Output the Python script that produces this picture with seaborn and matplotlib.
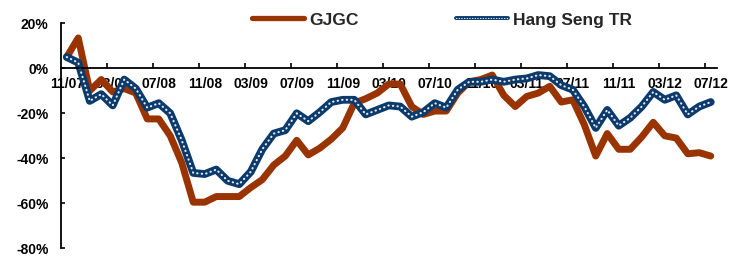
import pandas as pd
import numpy as np
import seaborn as sns
import matplotlib.pyplot as plt
from matplotlib.lines import Line2D
from matplotlib.ticker import FixedLocator, FuncFormatter

# ==============================
# DATA (monthly, 11/07 .. 07/12)
# ==============================

months = pd.date_range("2007-11-01", "2012-07-01", freq="MS").strftime("%m/%y").tolist()
tick_labels = ["11/07", "03/08", "07/08", "11/08", "03/09", "07/09", "11/09", "03/10",
               "07/10", "11/10", "03/11", "07/11", "11/11", "03/12", "07/12"]

gjgc = [5, 13.5, -10, -5, -10.5, -9, -11, -22.5, -22.5, -30,
        -42, -59.5, -59.5, -57, -57, -57, -53, -49.5, -43, -39,
        -32, -38.5, -35.5, -31.5, -26.5, -15.5, -13.5, -11, -7, -7,
        -17, -20.5, -19, -19, -11, -6, -5, -3, -12, -17,
        -12.5, -11, -8, -15, -14, -25, -39, -29, -36, -36,
        -30.5, -24, -30, -31, -38, -37.5, -39]

hang_seng_tr = [5, 2.5, -14.5, -11.5, -16.5, -5, -9, -17.5, -15.5, -20,
                -32, -46.5, -47, -45, -50, -51.5, -46, -36, -29, -27.5,
                -20, -23.5, -19.5, -15, -14, -14, -20.5, -18.5, -16.5, -17,
                -21.5, -19.5, -15.5, -17.5, -9.5, -6, -6, -5, -6, -5,
                -4.5, -3, -3.5, -7.5, -9.5, -17, -26.5, -18.5, -25.5, -22,
                -17, -10.5, -14, -12, -20.5, -17, -15]

df = pd.DataFrame({"Month": months, "GJGC": gjgc, "HangSengTR": hang_seng_tr})
df["idx"] = np.arange(len(df))

# ==============================
# THEME
# ==============================

sns.set_theme(style="white")
plt.rcParams['font.family'] = ['Liberation Sans', 'DejaVu Sans']
plt.rcParams['font.weight'] = 'bold'

ORANGE = "#993300"
NAVY = "#0b3a6b"
DOT = "#e4ebf5"

fig = plt.figure(figsize=(7.44, 2.57), dpi=100)
ax = fig.add_axes([61 / 744, 1 - 248.3 / 257, (716.5 - 61) / 744, 225 / 257])

# ==============================
# LINES
# ==============================

sns.lineplot(data=df, x="idx", y="GJGC", color=ORANGE, lw=5.0, ax=ax,
             solid_joinstyle="round", solid_capstyle="round")
sns.lineplot(data=df, x="idx", y="HangSengTR", color=NAVY, lw=5.6, ax=ax,
             solid_joinstyle="round", solid_capstyle="round")
sns.lineplot(data=df, x="idx", y="HangSengTR", color=DOT, lw=1.5, ax=ax,
             linestyle=(0, (0.2, 2.0)), dash_capstyle="round")

# ==============================
# AXES
# ==============================

ax.set_xlim(-0.5, len(df) - 0.5)
ax.set_ylim(-80, 20)
ax.set_xlabel("")
ax.set_ylabel("")

for s in ["top", "right"]:
    ax.spines[s].set_visible(False)
ax.spines["bottom"].set_position(("data", 0))
ax.spines["left"].set_bounds(-80, 20)
for s in ["bottom", "left"]:
    ax.spines[s].set_color("black")
    ax.spines[s].set_linewidth(1.3)

label_pos = [i for i, m in enumerate(months) if m in tick_labels]
ax.xaxis.set_major_locator(FixedLocator(label_pos))
ax.set_xticklabels(tick_labels)
ax.xaxis.set_minor_locator(FixedLocator([p + 3.5 for p in label_pos[:-1]]))
ax.tick_params(axis="x", which="major", length=0, pad=6, labelsize=10, labelcolor="black")
ax.tick_params(axis="x", which="minor", direction="in", length=3.5, width=1.2, color="black",
               bottom=True)

ax.set_yticks([-80, -60, -40, -20, 0, 20])
ax.yaxis.set_major_formatter(FuncFormatter(lambda v, p: f"{v:.0f}%"))
ax.tick_params(axis="y", direction="in", length=3, width=1.2, color="black", left=True,
               pad=9, labelsize=10, labelcolor="black")
for t in ax.get_xticklabels() + ax.get_yticklabels():
    t.set_fontweight("bold")

# ==============================
# LEGEND
# ==============================

h_gjgc = Line2D([], [], color=ORANGE, lw=3.8, solid_capstyle="round")
h_hs_base = Line2D([], [], color=NAVY, lw=2.8)
h_hs_dot = Line2D([], [], color=DOT, lw=0.8, linestyle=(0, (0.4, 2.0)), dash_capstyle="round")
fig.legend([h_gjgc, (h_hs_base, h_hs_dot)], ["GJGC", "Hang Seng TR"],
           loc="center left", bbox_to_anchor=(252 / 744, 1 - 20 / 257),
           ncol=2, frameon=False, borderpad=0, borderaxespad=0,
           handlelength=3.0, handletextpad=0.3, columnspacing=5.6,
           prop={"weight": "bold", "size": 12.5})

fig.savefig("out.png", dpi=100)
plt.close(fig)
